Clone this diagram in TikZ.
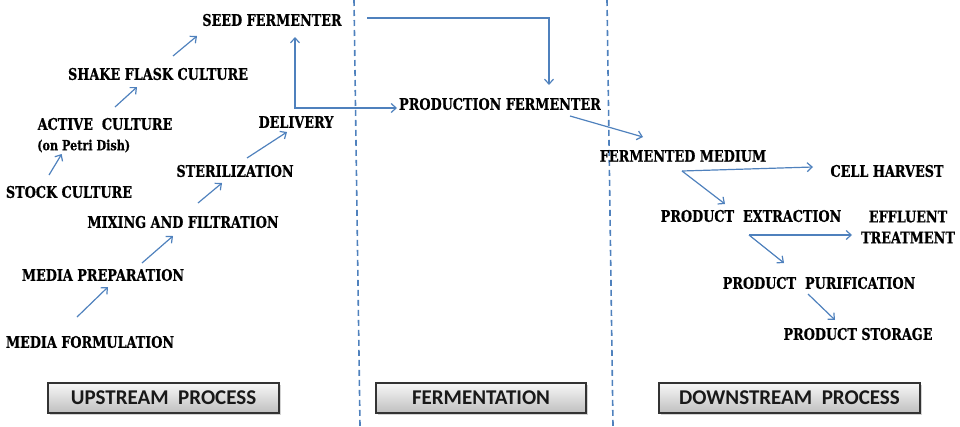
\documentclass[tikz,border=0pt]{standalone}
\usepackage{fontspec}
\newfontfamily\slab[FakeStretch=0.8,FakeBold=0.6]{DejaVu Serif}
\newfontfamily\boxfont{Carlito}
\usetikzlibrary{arrows.meta,calc,shadows}
\definecolor{arrowblue}{RGB}{79,129,189}
\tikzset{
  lbl/.style={inner sep=0pt,font=\slab\bfseries\fontsize{16}{18}\selectfont,text=black},
  small/.style={inner sep=0pt,font=\slab\bfseries\fontsize{14}{16}\selectfont,text=black},
  flow/.style={draw=arrowblue,line width=1.2pt,-{Straight Barb[length=5pt,width=9pt]}},
  twoway/.style={draw=arrowblue,line width=1.2pt,{Straight Barb[length=5pt,width=9pt]}-{Straight Barb[length=5pt,width=9pt]}},
  divider/.style={draw=arrowblue,line width=1.6pt,dash pattern=on 6pt off 4pt},
  stage/.style={draw=black!80,line width=1.1pt,top color=black!3,bottom color=black!25,
    minimum height=30pt,inner sep=0pt,font=\boxfont\bfseries\fontsize{21}{23}\selectfont,text=black!90,
    drop shadow={shadow xshift=1.5pt,shadow yshift=-1.5pt,opacity=0.35}}
}
\begin{document}
\begin{tikzpicture}[x=1pt,y=-1pt]
\useasboundingbox (0,0) rectangle (960,426);
% dividers
\draw[divider] (354,0) -- (360,426);
\draw[divider] (607,0) -- (613,426);
% upstream labels
\node[lbl] (seed) at (272,20) {SEED FERMENTER};
\node[lbl] (shake) at (158,74) {SHAKE FLASK CULTURE};
\node[lbl] (active) at (105,124) {ACTIVE\ \ CULTURE};
\node[small,anchor=west] (petri) at (37,146) {(on Petri Dish)};
\node[lbl] (stock) at (69,192) {STOCK CULTURE};
\node[lbl] (delivery) at (296,122) {DELIVERY};
\node[lbl] (steril) at (235,171) {STERILIZATION};
\node[lbl] (mixing) at (183,222) {MIXING AND FILTRATION};
\node[lbl] (prep) at (103,275) {MEDIA PREPARATION};
\node[lbl] (form) at (90,342) {MEDIA FORMULATION};
% fermentation
\node[lbl] (prod) at (500,104) {PRODUCTION FERMENTER};
% downstream
\node[lbl] (ferm) at (683,156) {FERMENTED MEDIUM};
\node[lbl] (cell) at (887,171) {CELL HARVEST};
\node[lbl] (extr) at (751,216) {PRODUCT\ \ EXTRACTION};
\node[lbl,align=center] (effl) at (908,227) {EFFLUENT\\[3pt]TREATMENT};
\node[lbl] (purif) at (819,283) {PRODUCT\ \ PURIFICATION};
\node[lbl] (stor) at (858,334) {PRODUCT STORAGE};
% stage boxes
\node[stage,minimum width=231pt] (up) at (163.5,398) {UPSTREAM\ \ PROCESS};
\node[stage,minimum width=210pt] (fe) at (481,398) {FERMENTATION};
\node[stage,minimum width=261pt] (down) at (789.5,398) {DOWNSTREAM\ \ PROCESS};
% arrows upstream
\draw[flow] ($(stock)+(-20,-17)$) -- ($(petri)+(-22,8)$);
\draw[flow] ($(active)+(10,-17)$) -- ($(shake)+(-21,13)$);
\draw[flow] ($(shake)+(15,-18)$) -- ($(seed)+(-75,16)$);
\draw[flow] ($(form)+(-13,-25)$) -- ($(prep)+(5,12)$);
\draw[flow] ($(prep)+(39,-12)$) -- ($(mixing)+(-10,14)$);
\draw[flow] ($(mixing)+(15,-19)$) -- ($(steril)+(-13,12)$);
\draw[flow] ($(steril)+(12,-13)$) -- ($(delivery)+(-9,10)$);
\draw[twoway] ($(seed)+(23,17)$) |- ($(prod)+(-103,4)$);
\draw[flow] ($(seed)+(95,-2)$) -| ($(prod)+(49,-19)$);
% arrows downstream
\draw[flow] ($(prod)+(70,12)$) -- ($(ferm)+(-40,-19)$);
\draw[flow] ($(ferm)+(-1,15)$) -- ($(cell)+(-74,-4)$);
\draw[flow] ($(ferm)+(-1,15)$) -- ($(extr)+(-26,-12)$);
\draw[flow] ($(extr)+(-2,19)$) -- ($(effl)+(-56,8)$);
\draw[flow] ($(extr)+(-2,19)$) -- ($(purif)+(-35,-20)$);
\draw[flow] ($(purif)+(-11,11)$) -- ($(stor)+(-23,-14)$);
\end{tikzpicture}
\end{document}
